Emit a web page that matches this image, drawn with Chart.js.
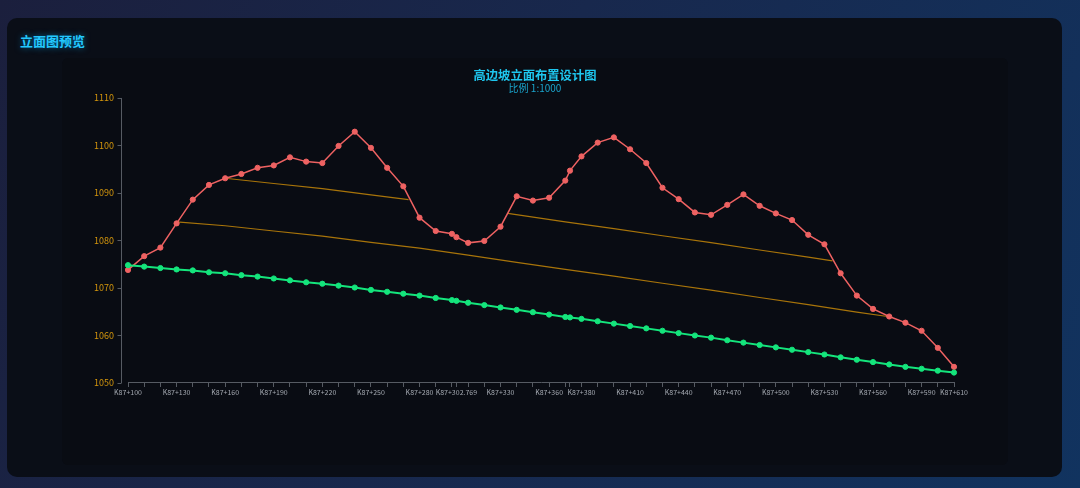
<!DOCTYPE html>
<html><head><meta charset="utf-8">
<script src="https://cdn.jsdelivr.net/npm/chart.js@4.4.1/dist/chart.umd.min.js"></script>
<style>
html,body{margin:0;padding:0;width:1080px;height:488px;overflow:hidden;}
body{background:linear-gradient(115deg,#1b1f3d 0%,#18284d 45%,#11335f 100%);font-family:"Noto Sans CJK SC","Noto Sans",sans-serif;position:relative;}
.card{position:absolute;left:7px;top:18px;width:1055px;height:459px;border-radius:10px;background:#0a0e17;}
.head{position:absolute;left:13px;top:13px;font-size:13px;font-weight:bold;color:#22c8ff;text-shadow:0 0 6px rgba(0,180,255,0.55);line-height:20px;letter-spacing:0px;}
.panel{position:absolute;left:55px;top:40px;width:946px;height:407px;border-radius:6px;background:#090c13;overflow:hidden;}
canvas{display:block;}
</style></head>
<body>
<div class="card">
  <div class="head">立面图预览</div>
  <div class="panel"><canvas id="c" width="946" height="407"></canvas></div>
</div>
<script>
const stations = [100,110,120,130,140,150,160,170,180,190,200,210,220,230,240,250,260,270,280,290,300,302.769,310,320,330,340,350,360,370,372.9,380,390,400,410,420,430,440,450,460,470,480,490,500,510,520,530,540,550,560,570,580,590,600,610];
const groundElev = [1073.8,1076.7,1078.5,1083.6,1088.6,1091.7,1093.1,1094.0,1095.3,1095.8,1097.5,1096.6,1096.3,1099.9,1102.9,1099.5,1095.3,1091.4,1084.8,1082.0,1081.4,1080.7,1079.5,1079.9,1082.9,1089.3,1088.4,1089.0,1092.6,1094.7,1097.7,1100.6,1101.7,1099.2,1096.3,1091.1,1088.7,1085.9,1085.4,1087.5,1089.7,1087.3,1085.7,1084.3,1081.2,1079.2,1073.1,1068.4,1065.6,1064.0,1062.7,1061.0,1057.4,1053.4];
const designElev = [1074.8,1074.5,1074.2,1073.9,1073.7,1073.3,1073.1,1072.7,1072.4,1072.0,1071.6,1071.2,1070.9,1070.5,1070.1,1069.6,1069.2,1068.8,1068.4,1067.9,1067.45,1067.3,1066.9,1066.4,1065.9,1065.4,1064.9,1064.4,1063.9,1063.8,1063.5,1063.0,1062.5,1062.0,1061.5,1061.0,1060.5,1060.0,1059.55,1059.0,1058.5,1058.0,1057.5,1057.0,1056.5,1056.0,1055.4,1054.9,1054.4,1053.9,1053.4,1053.0,1052.6,1052.2];
const berm1Stations = [130,160,190,220,250,280,310,340,370,400,430,460,490,520,550,569];
const berm1Elev = [1083.9,1083.1,1082.0,1080.9,1079.6,1078.4,1076.9,1075.4,1073.9,1072.5,1071.0,1069.55,1068.0,1066.5,1064.9,1064.0];
const berm2Stations = [160,190,220,250,273.2];
const berm2Elev = [1093.1,1092.0,1090.9,1089.6,1088.6];
const berm3Stations = [334.5,370,400,430,460,490,520,535];
const berm3Elev = [1085.7,1083.9,1082.5,1081.0,1079.55,1078.0,1076.5,1075.7];
const tickLabelStations = [100,130,160,190,220,250,280,302.769,330,360,380,410,440,470,500,530,560,590,610];
const yMin = 1050, yMax = 1110, yStep = 10;

Chart.defaults.font.family = '"Noto Sans CJK SC","Noto Sans",sans-serif';

function pts(xs, ys){ return xs.map((x,i)=>({x:x, y:ys[i]})); }

const axisGray = '#565b63';
const yAxisLine = {
  id:'yAxisLine',
  afterDraw(chart){
    const {ctx, chartArea, scales} = chart;
    const y = scales.y;
    const x = Math.round(chartArea.left - 7) + 0.5;
    ctx.save();
    ctx.strokeStyle = axisGray; ctx.lineWidth = 1;
    ctx.beginPath();
    ctx.moveTo(x, y.top); ctx.lineTo(x, y.bottom);
    y.ticks.forEach(t=>{
      const py = Math.round(y.getPixelForValue(t.value)) + 0.5;
      ctx.moveTo(x-4, py); ctx.lineTo(x, py);
    });
    ctx.stroke();
    ctx.restore();
  }
};

const orange = '#a8740a';
new Chart(document.getElementById('c'), {
  type:'line',
  data:{
    datasets:[
      {label:'设计线', data:pts(stations, designElev), borderColor:'#14e57c', backgroundColor:'#14e57c', borderWidth:2, pointRadius:2.6, pointBorderWidth:1, pointBackgroundColor:'#14e57c', pointBorderColor:'#14e57c', order:0, clip:6},
      {label:'地面线', data:pts(stations, groundElev), borderColor:'#ee6262', backgroundColor:'#ee6262', borderWidth:1.5, pointRadius:2.6, pointBorderWidth:1, pointBackgroundColor:'#ee6262', pointBorderColor:'#ee6262', order:1, clip:6},
      {label:'平台1', data:pts(berm1Stations, berm1Elev), borderColor:orange, borderWidth:1.2, pointRadius:0, order:2},
      {label:'平台2', data:pts(berm2Stations, berm2Elev), borderColor:orange, borderWidth:1.2, pointRadius:0, order:2},
      {label:'平台3', data:pts(berm3Stations, berm3Elev), borderColor:orange, borderWidth:1.2, pointRadius:0, order:2}
    ]
  },
  options:{
    responsive:false,
    animation:false,
    devicePixelRatio:1,
    layout:{padding:{left:0,right:0,top:0,bottom:62}},
    plugins:{
      legend:{display:false},
      tooltip:{enabled:false},
      title:{display:true, text:'高边坡立面布置设计图', color:'#1ec6ee', font:{size:12.3, weight:'bold'}, padding:{top:9.6,bottom:0}},
      subtitle:{display:true, text:'比例 1:1000', color:'#1aa4cc', font:{size:10}, padding:{top:0,bottom:3.6}}
    },
    scales:{
      x:{
        type:'linear', min:stations[0], max:stations[stations.length-1],
        afterBuildTicks: s => { s.ticks = stations.map(v=>({value:v})); },
        ticks:{autoSkip:false, maxRotation:0, minRotation:0, padding:1, color:'#a3a8b0', font:{size:7},
          callback:(v)=> tickLabelStations.includes(v) ? 'K87+' + v : ''},
        grid:{display:true, drawOnChartArea:false, drawTicks:true, tickLength:4, color:axisGray},
        border:{display:true, color:axisGray},
        afterFit: s => { s.height = 20; }
      },
      y:{
        position:'left',
        min:yMin, max:yMax,
        ticks:{stepSize:yStep, color:'#d4960c', font:{size:9}, padding:14, callback:(v)=> String(v)},
        grid:{display:false, drawTicks:false, tickLength:0},
        border:{display:false},
        afterFit: s => { s.width = 66; }
      },
      yRightSpace:{
        position:'right', display:true, min:yMin, max:yMax,
        ticks:{display:false},
        grid:{display:false, drawTicks:false},
        border:{display:false},
        afterFit: s => { s.width = 54; }
      }
    }
  },
  plugins:[yAxisLine]
});
</script>
</body></html>
